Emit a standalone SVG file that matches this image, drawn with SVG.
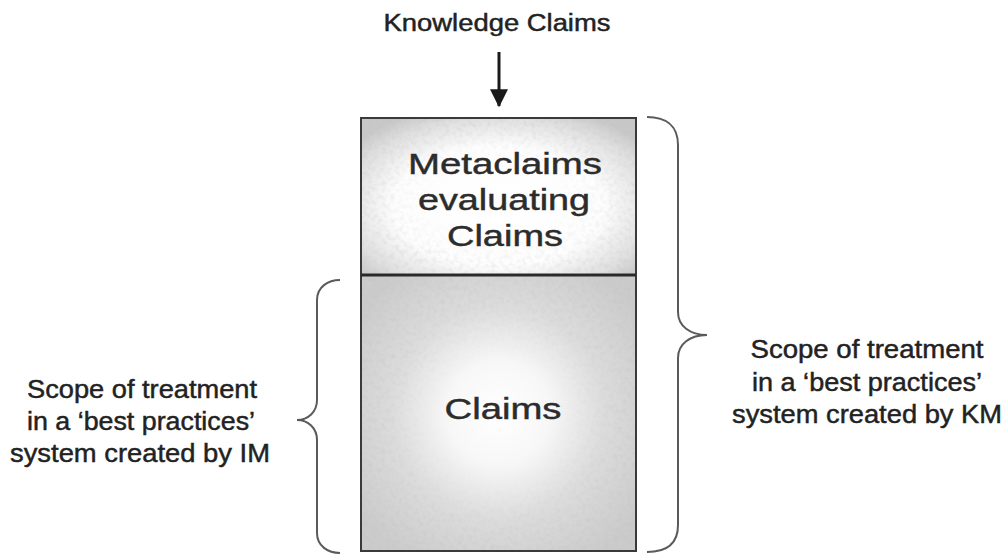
<svg xmlns="http://www.w3.org/2000/svg" width="1006" height="556" viewBox="0 0 1006 556">
  <style>
    .lbl { font-family: "Liberation Sans", Arial, sans-serif; fill: #222; stroke: #222; stroke-width: 0.45; text-anchor: middle; }
    .side { font-size: 25px; }
    .box-text { font-size: 30px; fill: #2c2c2c; stroke: #2c2c2c; }
    .frame { fill: none; stroke: #3a3a3a; stroke-width: 2; }
    .brace { fill: none; stroke: #5a5a5a; stroke-width: 2; }
  </style>
  <defs>
    <!-- shaded fills: light centre fading to grey edges -->
    <radialGradient id="topFill" cx="0.5" cy="0.56" r="0.66">
      <stop offset="0" stop-color="#ffffff"/>
      <stop offset="0.58" stop-color="#fdfdfd"/>
      <stop offset="0.86" stop-color="#dedede"/>
      <stop offset="1" stop-color="#c8c8c8"/>
    </radialGradient>
    <radialGradient id="bottomFill" cx="0.5" cy="0.5" r="0.62">
      <stop offset="0" stop-color="#ffffff"/>
      <stop offset="0.3" stop-color="#f7f7f7"/>
      <stop offset="0.62" stop-color="#dcdcdc"/>
      <stop offset="1" stop-color="#cbcbcb"/>
    </radialGradient>
    <radialGradient id="grainFade" cx="0.5" cy="0.52" r="0.6">
      <stop offset="0" stop-color="#000"/>
      <stop offset="0.35" stop-color="#000"/>
      <stop offset="0.75" stop-color="#fff"/>
      <stop offset="1" stop-color="#fff"/>
    </radialGradient>
    <mask id="grainMaskTop" maskUnits="userSpaceOnUse" x="361" y="118" width="275" height="157">
      <rect x="361" y="118" width="275" height="157" fill="url(#grainFade)"/>
    </mask>
    <mask id="grainMaskBottom" maskUnits="userSpaceOnUse" x="361" y="275" width="275" height="276">
      <rect x="361" y="275" width="275" height="276" fill="url(#grainFade)"/>
    </mask>
    <!-- fine speckled texture for the box fills -->
    <filter id="grain" x="0" y="0" width="1" height="1">
      <feTurbulence type="fractalNoise" baseFrequency="0.22" numOctaves="2" seed="7"/>
      <feColorMatrix type="matrix" values="0 0 0 0 0.5  0 0 0 0 0.5  0 0 0 0 0.5  -1.8 0 0 0 1.05"/>
    </filter>
    <marker id="arrowHead" markerWidth="6" markerHeight="6" refX="5.6" refY="3" orient="auto" markerUnits="strokeWidth">
      <path d="M0,0 L6,3 L0,6 Z" fill="#1a1a1a"/>
    </marker>
  </defs>

  <rect width="1006" height="556" fill="#ffffff"/>

  <g id="knowledge-claims">
    <text class="lbl" x="497" y="31" font-size="23" textLength="227" lengthAdjust="spacingAndGlyphs">Knowledge Claims</text>
  </g>

  <g id="metaclaims">
    <rect x="361" y="118" width="275" height="157" fill="url(#topFill)"/>
    <rect x="361" y="118" width="275" height="157" filter="url(#grain)" mask="url(#grainMaskTop)" opacity="0.3"/>
    <rect class="frame" x="361" y="118" width="275" height="157"/>
    <text class="lbl box-text" x="505" y="174" textLength="194" lengthAdjust="spacingAndGlyphs">Metaclaims</text>
    <text class="lbl box-text" x="504" y="210" textLength="172" lengthAdjust="spacingAndGlyphs">evaluating</text>
    <text class="lbl box-text" x="505" y="246" textLength="116" lengthAdjust="spacingAndGlyphs">Claims</text>
  </g>

  <g id="claims">
    <rect x="361" y="275" width="275" height="276" fill="url(#bottomFill)"/>
    <rect x="361" y="275" width="275" height="276" filter="url(#grain)" mask="url(#grainMaskBottom)" opacity="0.3"/>
    <rect class="frame" x="361" y="275" width="275" height="276"/>
    <text class="lbl box-text" x="503" y="419" textLength="117" lengthAdjust="spacingAndGlyphs">Claims</text>
  </g>

  <!-- heavier rule between the two layers -->
  <line x1="361" y1="275" x2="636" y2="275" stroke="#2a2a2a" stroke-width="3"/>

  <g id="im-scope">
    <text class="lbl side" x="142" y="398" textLength="230" lengthAdjust="spacingAndGlyphs">Scope of treatment</text>
    <text class="lbl side" x="141" y="430" textLength="228" lengthAdjust="spacingAndGlyphs">in a ‘best practices’</text>
    <text class="lbl side" x="140" y="462" textLength="260" lengthAdjust="spacingAndGlyphs">system created by IM</text>
  </g>

  <g id="km-scope">
    <text class="lbl side" x="867" y="358" textLength="233" lengthAdjust="spacingAndGlyphs">Scope of treatment</text>
    <text class="lbl side" x="867" y="391" textLength="230" lengthAdjust="spacingAndGlyphs">in a ‘best practices’</text>
    <text class="lbl side" x="867" y="423" textLength="270" lengthAdjust="spacingAndGlyphs">system created by KM</text>
  </g>

  <g id="connectors">
    <line x1="499" y1="52" x2="499" y2="106" stroke="#1a1a1a" stroke-width="3" marker-end="url(#arrowHead)"/>
    <path class="brace" d="M647,117 C665,117 678,125 678,145 L678,312 C678,326 690,335 707,335 C690,335 678,344 678,358 L678,525 C678,545 665,552 647,552"/>
    <path class="brace" d="M340,280 C328,280 317,287 317,300 L317,400 C317,412 308,420 297,420 C308,420 317,428 317,440 L317,533 C317,546 328,553 340,553"/>
  </g>
</svg>
